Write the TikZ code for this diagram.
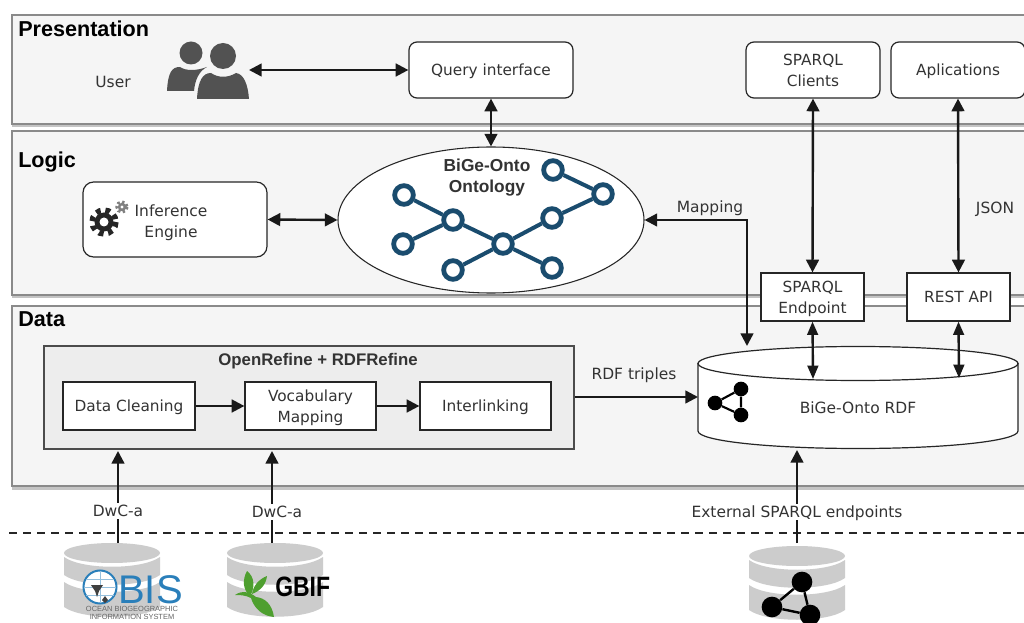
\documentclass[tikz,border=0pt]{standalone}
\usepackage{fontspec}
\usepackage{graphicx}
\setmainfont{DejaVu Sans}
\newfontfamily\headfont{Liberation Sans}
\usetikzlibrary{arrows.meta,shapes.geometric}
\definecolor{panelfill}{HTML}{F5F5F5}
\definecolor{panelline}{HTML}{8A8A8A}
\definecolor{bandshade}{HTML}{C4C4C4}
\definecolor{txt}{HTML}{333333}
\definecolor{netblue}{HTML}{1A4C6E}
\definecolor{dbgray}{HTML}{CCCCCC}
\definecolor{obisblue}{HTML}{2A7FBA}
\definecolor{leaf}{HTML}{4E9F2F}
\def\px{0.75pt}
\tikzset{
  panel/.style={draw=panelline,line width=1pt,fill=panelfill},
  shade band/.style={fill=bandshade,draw=none},
  heading/.style={font=\headfont\bfseries\fontsize{16.2}{18}\selectfont,text=black,anchor=base west,inner sep=0pt},
  label/.style={font=\fontsize{11.6}{15.75}\selectfont,text=txt,align=center,inner sep=0pt,text depth=0pt},
  lbox/.style={draw=black!85,line width=0.9pt,fill=white,rounded corners=6pt,font=\fontsize{11.5}{15.75}\selectfont,text=txt,align=center,inner sep=0pt,text depth=0pt},
  sbox/.style={draw=black!85,line width=0.9pt,fill=white,font=\fontsize{11.5}{15.75}\selectfont,text=txt,align=center,inner sep=0pt,text depth=0pt},
  link/.style={line width=1.8pt,draw=black!90,-{Triangle[length=9.5pt,width=9.5pt]}},
  both/.style={line width=1.8pt,draw=black!90,{Triangle[length=9.5pt,width=9.5pt]}-{Triangle[length=9.5pt,width=9.5pt]}},
  dbboth/.style={line width=1.8pt,draw=black!90,{Triangle[length=10pt,width=8pt]}-{Triangle[length=10pt,width=8pt]}},
  netnode/.style={circle,draw=netblue,line width=3.6pt,fill=white,minimum size=14pt,inner sep=0pt},
  netedge/.style={draw=netblue,line width=3pt},
  dot/.style={circle,fill=black,inner sep=0pt},
}
\newcommand{\dbslabs}[2]{% centre x, top y
  \fill[dbgray] (#1,#2+10) ellipse [x radius=48,y radius=10];
  \fill[dbgray] (#1-48,#2+14) .. controls (#1-30,#2+27) and (#1+30,#2+27) .. (#1+48,#2+14) -- (#1+48,#2+32) .. controls (#1+30,#2+45) and (#1-30,#2+45) .. (#1-48,#2+32) -- cycle;
  \fill[dbgray] (#1-48,#2+39) .. controls (#1-30,#2+52) and (#1+30,#2+52) .. (#1+48,#2+39) -- (#1+48,#2+64) .. controls (#1+30,#2+77) and (#1-30,#2+77) .. (#1-48,#2+64) -- cycle;
}
\begin{document}
\begin{tikzpicture}[x=0.75pt,y=-0.75pt]
\useasboundingbox (0,0) rectangle (1024,623);
\clip (0,0) rectangle (1024,623);
\fill[white] (0,0) rectangle (1024,623);
% panels
\fill[shade band] (12,123) rectangle (1030,127.5);
\fill[shade band] (12,294) rectangle (1030,298.5);
\fill[shade band] (12,485) rectangle (1030,490);
\draw[panel] (12,15) rectangle (1030,124);
\draw[panel] (12,131) rectangle (1030,295);
\draw[panel] (12,306) rectangle (1030,486);
\node[heading] (hp) at (18,37) {Presentation};
\node[heading] (hl) at (18,168) {Logic};
\node[heading] (hd) at (18,327) {Data};
% top row
\node[label] (user) at (113,82) {User};
\fill[black!68] (191,53) circle [radius=11.5];
\fill[black!68] (167,91) .. controls (168,72) and (172,67) .. (180,67) .. controls (186,71) and (196,71) .. (207,67) .. controls (199,71) and (195,80) .. (194,91) -- cycle;
\fill[black!68] (223,56) circle [radius=13];
\fill[black!68] (197,99) .. controls (198,80) and (203,73) .. (211,73) .. controls (218,78) and (228,78) .. (236,73) .. controls (244,74) and (248,85) .. (249,99) -- cycle;
\coordinate (usericon) at (249,70);
\node[lbox,minimum width=164*\px,minimum height=56*\px] (query) at (491,70) {Query interface};
\node[lbox,minimum width=134*\px,minimum height=56*\px] (clients) at (813,70) {SPARQL\\Clients};
\node[lbox,minimum width=134*\px,minimum height=56*\px] (apps) at (958,70) {Aplications};
% logic
\node[lbox,minimum width=184*\px,minimum height=75*\px,rounded corners=8pt] (infer) at (175,219.5) {};
\node[label] (infertext) at (171,221) {Inference\\Engine};
\node[ellipse,draw=black!85,line width=0.8pt,fill=white,minimum width=306*\px,minimum height=146*\px,inner sep=0pt] (onto) at (491,220) {};
\node[font=\headfont\bfseries\fontsize{13}{15.75}\selectfont,text=txt,align=center,inner sep=0pt] (ontotext) at (487,178) {BiGe-Onto\\Ontology};
% gears
\fill[black!85] (104,222) circle [radius=9.5];
\draw[black!85,line width=4pt,dash pattern=on 3.6pt off 3.6pt] (104,222) circle [radius=12];
\fill[white] (104,222) circle [radius=4.5];
\fill[black!50] (122,207) circle [radius=4.2];
\draw[black!50,line width=2.2pt,dash pattern=on 1.8pt off 1.8pt] (122,207) circle [radius=5.2];
\fill[white] (122,207) circle [radius=1.6];
% ontology network
\foreach \n/\x/\y in {na/404/195,nb/403/244,nc/453/220,nd/503/244,ne/453/270,nf/552/268,ng/552/218,nh/603/194,ni/553/170}
  \node[netnode] (\n) at (\x,\y) {};
\foreach \a/\b in {na/nc,nb/nc,nc/nd,ne/nd,nf/nd,ng/nd,ng/nh,ni/nh}
  \draw[netedge] (\a) -- (\b);
% endpoints
\node[sbox,minimum width=103*\px,minimum height=48*\px] (endpoint) at (812.5,297) {SPARQL\\Endpoint};
\node[sbox,minimum width=103*\px,minimum height=48*\px] (rest) at (958.5,297) {REST API};
% data
\node[draw=black!70,line width=0.8pt,fill=black!7,minimum width=530*\px,minimum height=103*\px,inner sep=0pt] (refine) at (309,397.5) {};
\node[font=\headfont\bfseries\fontsize{12.6}{15}\selectfont,text=txt,inner sep=0pt] (refinetitle) at (318,361) {OpenRefine + RDFRefine};
\node[sbox,minimum width=132*\px,minimum height=48*\px] (clean) at (129,406) {Data Cleaning};
\node[sbox,minimum width=131*\px,minimum height=48*\px] (vocab) at (310.5,406) {Vocabulary\\Mapping};
\node[sbox,minimum width=131*\px,minimum height=48*\px] (inter) at (485.5,406) {Interlinking};
% database cylinder
\draw[draw=black!85,line width=0.9pt,fill=white] (698,363) -- (698,431) .. controls (698,441) and (770,448.5) .. (858,448.5) .. controls (946,448.5) and (1018,441) .. (1018,431) -- (1018,363);
\draw[draw=black!85,line width=0.9pt,fill=white] (858,363.5) ellipse [x radius=160,y radius=17];
\coordinate (dbwest) at (698,397);
\coordinate (dbmap) at (747,346);
\coordinate (dbsouth) at (797,450);
\coordinate (dbep) at (813,379);
\coordinate (dbrest) at (959,378);
\node[label] (dblabel) at (858,408) {BiGe-Onto RDF};
\node[dot,minimum size=11pt] (r1) at (715,403) {};
\node[dot,minimum size=11pt] (r2) at (741,389) {};
\node[dot,minimum size=11pt] (r3) at (741,415) {};
\draw[line width=1.6pt] (r1) -- (r2) -- (r3) -- (r1);
% connectors
\draw[both] (usericon) -- (query.west);
\draw[both] (query.south) -- (onto.north);
\draw[both] (infer.east) -- (onto.west);
\draw[both] (onto.east) -| (dbmap);
\draw[both] (clients.south) -- (endpoint.north);
\draw[both] (apps.south) -- (rest.north);
\draw[dbboth] (endpoint.south) -- (dbep);
\draw[dbboth] (rest.south) -- (dbrest);
\draw[link] (clean.east) -- (vocab.west);
\draw[link] (vocab.east) -- (inter.west);
\draw[link] (refine.east |- dbwest) -- (dbwest);
\node[label] (mapping) at (710,207) {Mapping};
\node[label] (json) at (995,208) {JSON};
\node[label] (triples) at (634,374) {RDF triples};
% dashed separator
\coordinate (dashL) at (9,533);
\coordinate (dashR) at (1024,533);
\draw[line width=2pt,black!85,dash pattern=on 6.3pt off 4.2pt] (dashL) -- (dashR);
% external sources
\dbslabs{112}{543}
\dbslabs{275}{543}
\dbslabs{797}{546}
% arrows from sources
\coordinate (obis) at (118,543);
\coordinate (gbif) at (272,543);
\coordinate (ext) at (797,543);
\coordinate (obisin) at (118,451);
\coordinate (gbifin) at (272,451);
\draw[link] (obis) -- (obisin);
\draw[link] (gbif) -- (gbifin);
\draw[link] (ext) -- (dbsouth);
\node[label,fill=white,inner sep=1.5pt] (dwc1) at (118,511) {DwC-a};
\node[label,fill=white,inner sep=1.5pt] (dwc2) at (277,512) {DwC-a};
\node[label,fill=white,inner sep=1.5pt] (extlabel) at (797,512) {External SPARQL endpoints};
% OBIS logo
\draw[obisblue,line width=1.5pt,fill=white] (100,587) circle [radius=16.5];
\draw[obisblue!50,line width=0.4pt] (84,587) -- (116,587) (100,571) -- (100,603) (86,579) -- (114,579) (86,595) -- (114,595);
\fill[black!75] (91,585) -- (103,585) -- (99,591) -- (97,597) -- (95,591) -- cycle;
\fill[black!75] (105,596) -- (108,600) -- (105,603) -- (102,600) -- cycle;
\node[font=\headfont\fontsize{30}{30}\selectfont,text=obisblue,anchor=base west,inner sep=0pt,text depth=0pt,text height=22pt] (obistext) at (118,603) {BIS};
\node[font=\headfont\fontsize{5.6}{6}\selectfont,text=black!60,align=center,inner sep=0pt,anchor=north] (obissub) at (132,606) {OCEAN BIOGEOGRAPHIC\\INFORMATION SYSTEM};
% GBIF logo
\fill[leaf] (247,571) .. controls (255,577) and (255,588) .. (250,596) .. controls (243,590) and (242,580) .. (247,571) -- cycle;
\fill[leaf] (267,576) .. controls (266,585) and (260,591) .. (252,594) .. controls (253,586) and (259,579) .. (267,576) -- cycle;
\fill[leaf] (235,595) .. controls (242,590) and (250,592) .. (256,597) .. controls (265,598) and (272,604) .. (274,617) .. controls (262,616) and (254,608) .. (251,598) .. controls (245,595) and (240,595) .. (235,595) -- cycle;
\node[font=\headfont\bfseries\fontsize{21}{21}\selectfont,text=black,anchor=west,inner sep=0pt] (gbiftext) at (275,587) {\scalebox{0.82}[1]{GBIF}};
% external icon
\node[dot,minimum size=15.5pt] (x1) at (802,582) {};
\node[dot,minimum size=15.5pt] (x2) at (772,607) {};
\node[dot,minimum size=15.5pt] (x3) at (810,615) {};
\draw[line width=1.8pt] (x1) -- (x2) -- (x3) -- (x1);
\end{tikzpicture}
\end{document}
